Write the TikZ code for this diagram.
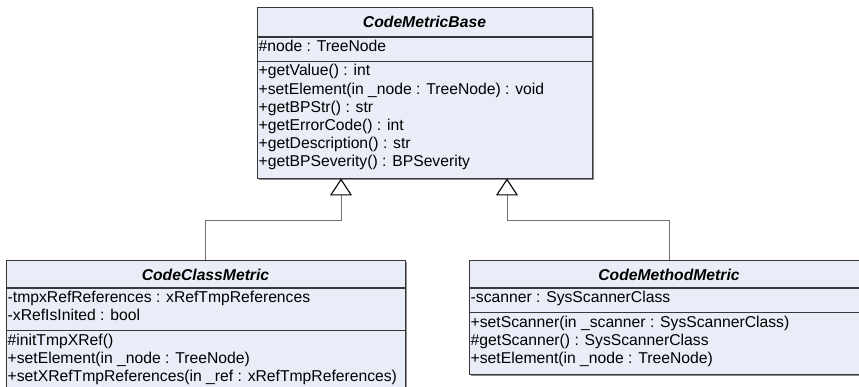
\documentclass[tikz,border=0pt]{standalone}
\usepackage{fontspec}
\setmainfont{Liberation Sans}
\usetikzlibrary{arrows.meta}

\definecolor{classfill}{RGB}{233,237,247}
\definecolor{classedge}{RGB}{56,56,56}
\definecolor{classshade}{RGB}{140,140,140}
\definecolor{linkgray}{RGB}{112,112,112}

\tikzset{
  classbox/.style={draw=classedge, fill=classfill, line width=1.4pt,
    rectangle, inner sep=0pt, anchor=north west},
  shadebox/.style={fill=classshade, rectangle, inner sep=0pt, anchor=north west},
  sepline/.style={draw=classedge, line width=1.2pt},
  classname/.style={font=\fontsize{15.7}{18}\selectfont\bfseries\itshape,
    inner sep=0pt, anchor=base},
  member/.style={font=\fontsize{15.7}{18}\selectfont, inner sep=0pt,
    anchor=base west},
  generalize/.style={draw=linkgray, line width=1pt,
    -{Triangle[open, width=22pt, length=17pt, color=black, line width=1.1pt]}}
}

\begin{document}
\begin{tikzpicture}[x=1pt, y=-1pt]
\useasboundingbox (0,0) rectangle (859,387);
\clip (0,0) rectangle (859,387);

% ---------- CodeMetricBase ----------
\node[shadebox, minimum width=335pt, minimum height=171pt] (baseshade) at (258.5,8.5) {};
\node[classbox, minimum width=335pt, minimum height=171pt] (base) at (257,7) {};
\draw[sepline] (257,37) -- (592,37);
\draw[sepline] (257,61.5) -- (592,61.5);
\node[classname] (basename) at (424.5,27.5) {CodeMetricBase};
\node[member] (ba1) at (258.5,51.5) {\#node : TreeNode};
\node[member] (bm1) at (258.5,76)    {+getValue() : int};
\node[member] (bm2) at (258.5,94.2)  {+setElement(in \_node : TreeNode) : void};
\node[member] (bm3) at (258.5,112.4) {+getBPStr() : str};
\node[member] (bm4) at (258.5,130.6) {+getErrorCode() : int};
\node[member] (bm5) at (258.5,148.8) {+getDescription() : str};
\node[member] (bm6) at (258.5,167)   {+getBPSeverity() : BPSeverity};

% ---------- CodeClassMetric ----------
\node[shadebox, minimum width=399pt, minimum height=140pt] (ccmshade) at (7.5,261.5) {};
\node[classbox, minimum width=399pt, minimum height=140pt] (ccm) at (6,260) {};
\draw[sepline] (6,288) -- (405,288);
\draw[sepline] (6,330.5) -- (405,330.5);
\node[classname] (ccmname) at (205.5,280) {CodeClassMetric};
\node[member] (ca1) at (7.5,302.5) {-tmpxRefReferences : xRefTmpReferences};
\node[member] (ca2) at (7.5,320.7) {-xRefIsInited : bool};
\node[member] (cm1) at (7.5,345)   {\#initTmpXRef()};
\node[member] (cm2) at (7.5,363.2) {+setElement(in \_node : TreeNode)};
\node[member] (cm3) at (7.5,381.4) {+setXRefTmpReferences(in \_ref : xRefTmpReferences)};

% ---------- CodeMethodMetric ----------
\node[shadebox, minimum width=400pt, minimum height=114pt] (cmmshade) at (470.5,261.5) {};
\node[classbox, minimum width=400pt, minimum height=114pt] (cmm) at (469,260) {};
\draw[sepline] (469,288) -- (869,288);
\draw[sepline] (469,312.5) -- (869,312.5);
\node[classname] (cmmname) at (669,280) {CodeMethodMetric};
\node[member] (ma1) at (470.5,302.5) {-scanner : SysScannerClass};
\node[member] (mm1) at (470.5,327)   {+setScanner(in \_scanner : SysScannerClass)};
\node[member] (mm2) at (470.5,345.2) {\#getScanner() : SysScannerClass};
\node[member] (mm3) at (470.5,363.4) {+setElement(in \_node : TreeNode)};

% ---------- generalizations ----------
\coordinate (tipA) at (341,178.5);
\coordinate (tipB) at (507,178.5);
\coordinate (jointA) at (341,221);
\coordinate (jointB) at (507,221);
\draw[generalize] (ccm.north -| ccmname) |- (jointA) -- (tipA);
\draw[generalize] (cmm.north -| cmmname) |- (jointB) -- (tipB);
\end{tikzpicture}
\end{document}
